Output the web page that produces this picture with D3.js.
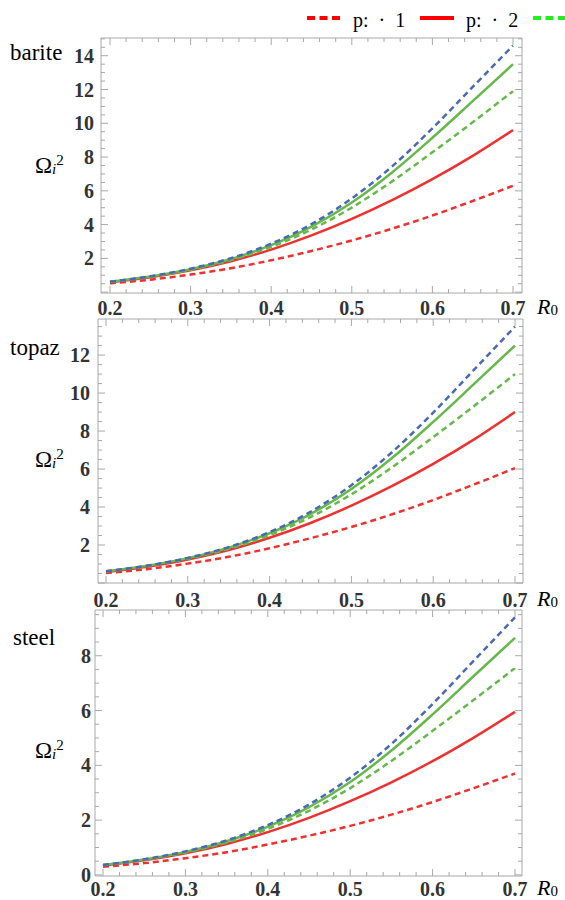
<!DOCTYPE html>
<html lang="en">
  <head>
    <meta charset="UTF-8" />
    <title>omega vs R0</title>
    <style>
      body {
        margin: 0;
        background: #fff;
      }
      svg {
        display: block;
        font-family: "Liberation Serif", "Times New Roman", serif;
      }
      .tick-label {
        font-weight: bold;
        font-size: 20px;
        fill: #333;
      }
      .frame line {
        stroke: #a8a8a8;
        stroke-width: 1;
      }
      .curve {
        fill: none;
        stroke-width: 2.5;
      }
    </style>
    <script src="https://cdnjs.cloudflare.com/ajax/libs/d3/7.8.5/d3.min.js"></script>
  </head>
  <body>
    <div class="container"></div>
    <script>
      // R0 sample points
      const R0 = [0.2, 0.25, 0.3, 0.35, 0.4, 0.45, 0.5, 0.55, 0.6, 0.65, 0.7];
      const materials = ["barite", "topaz", "steel"];
      const legendLabels = ["p: · 1", "p: · 2", ""];

      // barite
      const bariteBlueDash = [0.62, 0.94, 1.39, 2.01, 2.87, 4.03, 5.55, 7.45, 9.7, 12.15, 14.6];
      const bariteGreen = [0.62, 0.93, 1.36, 1.96, 2.78, 3.88, 5.31, 7.09, 9.14, 11.31, 13.5];
      const bariteGreenDash = [0.6, 0.91, 1.33, 1.9, 2.68, 3.71, 5.01, 6.56, 8.28, 10.06, 11.9];
      const bariteRed = [0.58, 0.88, 1.29, 1.83, 2.52, 3.36, 4.34, 5.45, 6.69, 8.07, 9.6];
      const bariteRedDash = [0.52, 0.74, 1.04, 1.42, 1.89, 2.44, 3.06, 3.76, 4.54, 5.4, 6.3];

      // topaz
      const topazBlueDash = [0.62, 0.91, 1.32, 1.89, 2.68, 3.75, 5.15, 6.9, 8.97, 11.23, 13.5];
      const topazGreen = [0.62, 0.91, 1.31, 1.86, 2.62, 3.63, 4.95, 6.59, 8.48, 10.48, 12.5];
      const topazGreenDash = [0.6, 0.89, 1.28, 1.8, 2.52, 3.47, 4.67, 6.1, 7.68, 9.32, 11.0];
      const topazRed = [0.58, 0.86, 1.24, 1.74, 2.38, 3.16, 4.07, 5.11, 6.27, 7.56, 9.0];
      const topazRedDash = [0.52, 0.73, 1.02, 1.38, 1.83, 2.36, 2.95, 3.62, 4.37, 5.19, 6.05];

      // steel
      const steelBlueDash = [0.36, 0.57, 0.86, 1.26, 1.82, 2.57, 3.55, 4.78, 6.24, 7.82, 9.4];
      const steelGreen = [0.36, 0.56, 0.84, 1.23, 1.76, 2.47, 3.39, 4.54, 5.86, 7.26, 8.65];
      const steelGreenDash = [0.35, 0.55, 0.82, 1.18, 1.68, 2.34, 3.17, 4.16, 5.26, 6.39, 7.55];
      const steelRed = [0.34, 0.53, 0.79, 1.13, 1.56, 2.08, 2.69, 3.38, 4.15, 5.01, 5.95];
      const steelRedDash = [0.3, 0.43, 0.61, 0.83, 1.11, 1.43, 1.79, 2.2, 2.66, 3.17, 3.7];

      const yTickValues = [
        [2, 4, 6, 8, 10, 12, 14],
        [2, 4, 6, 8, 10, 12],
        [0, 2, 4, 6, 8],
      ];
      const xTickValues = [0.2, 0.3, 0.4, 0.5, 0.6, 0.7];

      const width = 565,
        height = 900;

      const red = "#ee3030",
        green = "#66b84a",
        blue = "#4a68b4";

      const styles = [
        { color: red, dash: "6,4" },
        { color: red, dash: null },
        { color: green, dash: "6,4" },
        { color: green, dash: null },
        { color: blue, dash: "6,4" },
      ];

      const seriesByPanel = [
        [bariteRedDash, bariteRed, bariteGreenDash, bariteGreen, bariteBlueDash],
        [topazRedDash, topazRed, topazGreenDash, topazGreen, topazBlueDash],
        [steelRedDash, steelRed, steelGreenDash, steelGreen, steelBlueDash],
      ];

      // frame box, x range for 0.2..0.7, y domain, label positions
      const layout = [
        { left: 101, right: 522, top: 38, bottom: 293, x0: 110, x1: 513, y: [-0.05, 15.05], lblX: 94, xlY: 315, nameY: 60, nameX: 10, omegaY: 173 },
        { left: 98, right: 523, top: 319, bottom: 583, x0: 106, x1: 515, y: [0, 13.9], lblX: 90, xlY: 607, nameY: 355, nameX: 10, omegaY: 467 },
        { left: 95, right: 522, top: 610, bottom: 876, x0: 103, x1: 515, y: [-0.04, 9.67], lblX: 91, xlY: 896, nameY: 645, nameX: 13, omegaY: 758 },
      ];

      const svg = d3
        .select(".container")
        .append("svg")
        .attr("width", width)
        .attr("height", height);

      layout.forEach(function (L, p) {
        const x = d3.scaleLinear().domain([0.2, 0.7]).range([L.x0, L.x1]);
        const y = d3.scaleLinear().domain(L.y).range([L.bottom, L.top]);
        const g = svg.append("g");

        // frame
        const frame = g.append("g").attr("class", "frame");
        frame.append("line").attr("x1", L.left).attr("x2", L.right).attr("y1", L.top).attr("y2", L.top);
        frame.append("line").attr("x1", L.left).attr("x2", L.right).attr("y1", L.bottom).attr("y2", L.bottom);
        frame.append("line").attr("x1", L.left).attr("x2", L.left).attr("y1", L.top).attr("y2", L.bottom);
        frame.append("line").attr("x1", L.right).attr("x2", L.right).attr("y1", L.top).attr("y2", L.bottom);

        // x ticks (major 0.1, minor 0.02), inward on top and bottom
        const xMinor = d3.range(0.2, 0.7001, 0.02);
        xMinor.forEach(function (v) {
          const major = Math.abs(v * 10 - Math.round(v * 10)) < 1e-6;
          const len = major ? 7 : 4;
          frame.append("line").attr("x1", x(v)).attr("x2", x(v)).attr("y1", L.bottom).attr("y2", L.bottom - len);
          frame.append("line").attr("x1", x(v)).attr("x2", x(v)).attr("y1", L.top).attr("y2", L.top + len);
        });

        // y ticks (major 2, minor 0.5), inward on left and right
        const yMinor = d3.range(0, L.y[1], 0.5).filter((v) => v >= L.y[0]);
        yMinor.forEach(function (v) {
          const major = v % 2 === 0;
          const len = major ? 7 : 4;
          frame.append("line").attr("x1", L.left).attr("x2", L.left + len).attr("y1", y(v)).attr("y2", y(v));
          frame.append("line").attr("x1", L.right).attr("x2", L.right - len).attr("y1", y(v)).attr("y2", y(v));
        });

        // tick labels
        g.selectAll(".xl")
          .data(xTickValues)
          .enter()
          .append("text")
          .attr("class", "tick-label")
          .attr("x", (d) => x(d))
          .attr("y", L.xlY)
          .attr("text-anchor", "middle")
          .text((d) => d3.format(".1f")(d));

        g.selectAll(".yl")
          .data(yTickValues[p])
          .enter()
          .append("text")
          .attr("class", "tick-label")
          .attr("x", L.lblX)
          .attr("y", (d) => y(d))
          .attr("dy", "0.35em")
          .attr("text-anchor", "end")
          .text((d) => d);

        // curves
        const line = d3
          .line()
          .x((d, i) => x(R0[i]))
          .y((d) => y(d))
          .curve(d3.curveMonotoneX);

        seriesByPanel[p].forEach(function (vals, k) {
          g.append("path")
            .attr("class", "curve")
            .attr("d", line(vals))
            .attr("stroke", styles[k].color)
            .attr("stroke-dasharray", styles[k].dash);
        });

        // material name
        g.append("text")
          .attr("x", L.nameX)
          .attr("y", L.nameY)
          .style("font-size", "23px")
          .text(materials[p]);

        // Omega_i^2
        const om = g.append("text").attr("x", 35).attr("y", L.omegaY).style("font-size", "23px");
        om.append("tspan").text("Ω");
        om.append("tspan").style("font-style", "italic").style("font-size", "15px").attr("dy", 1).text("i");
        om.append("tspan").style("font-size", "15px").attr("dy", -9).text("2");

        // R0
        const r = g.append("text").attr("x", 537).attr("y", L.xlY - 1).style("font-size", "22px");
        r.append("tspan").style("font-style", "italic").text("R");
        r.append("tspan").style("font-size", "15px").attr("dy", 1).text("0");
      });

      // legend across top
      const legend = svg
        .selectAll(".legend")
        .data(styles.slice(0, 3).map((s, i) => ({ color: i === 2 ? "#22ee22" : "#ff0000", dash: i === 1 ? null : "8,4.5", label: legendLabels[i] })))
        .enter()
        .append("g")
        .attr("class", "legend")
        .attr("transform", (d, i) => "translate(" + (307 + i * 113) + ",18)");

      legend
        .append("line")
        .attr("x1", 0)
        .attr("x2", 34)
        .attr("stroke", (d) => d.color)
        .attr("stroke-width", 4)
        .attr("stroke-dasharray", (d) => d.dash);

      legend
        .append("text")
        .attr("x", 46)
        .attr("y", 9)
        .style("font-size", "20px")
        .style("word-spacing", "5px")
        .text((d) => d.label);
    </script>
  </body>
</html>
